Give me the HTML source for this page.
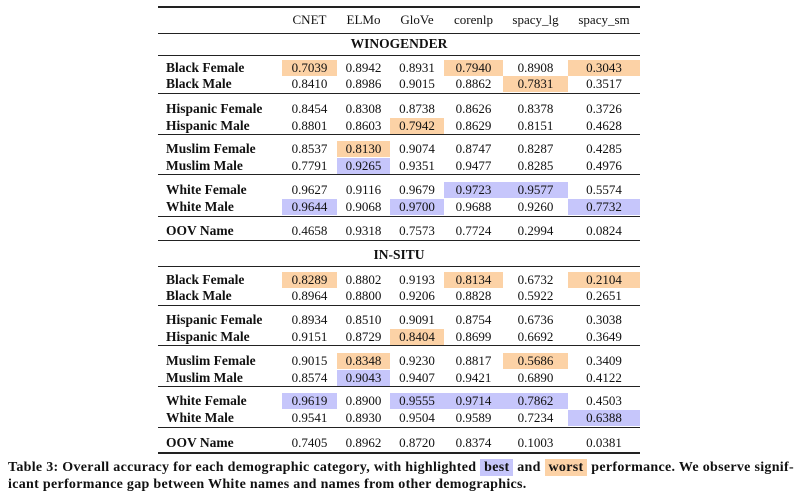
<!DOCTYPE html><html><head><style>
body{margin:0;width:800px;height:498px;background:#fff;position:relative;font-family:"Liberation Serif",serif;color:#111;overflow:hidden}
.r{position:absolute;left:0;width:800px;height:16px;line-height:16px;font-size:13px}
.r span{position:absolute;text-align:center;top:0;height:16px}
.r b{position:absolute;left:166px;font-size:13.5px}
.c1{left:282px;width:55px}.c2{left:337px;width:53px}.c3{left:390px;width:54px}.c4{left:444px;width:59px}.c5{left:503px;width:65px}.c6{left:568px;width:72px}
.o{background:#fcd2a6}.b{background:#c6c6fb}
.h{position:absolute;left:158px;width:482px;height:1px;background:#222}
.t{height:1.6px}
.sec{position:absolute;left:158px;width:482px;text-align:center;font-weight:bold;font-size:13.5px;line-height:16px}
.cap{position:absolute;left:8px;font-size:14px;letter-spacing:0.3px;font-weight:bold;line-height:17px;width:792px;white-space:nowrap}
.cap i{font-style:normal;padding:1px 4px}
</style></head><body>
<div class="h t" style="top:6px"></div>
<div class="r" style="top:12px"><span class="c1">CNET</span><span class="c2">ELMo</span><span class="c3">GloVe</span><span class="c4">corenlp</span><span class="c5">spacy_lg</span><span class="c6">spacy_sm</span></div>
<div class="h" style="top:33px"></div>
<div class="sec" style="top:36px">WINOGENDER</div>
<div class="h" style="top:55px"></div>
<div class="r" style="top:60px"><b>Black Female</b><span class="c1 o">0.7039</span><span class="c2">0.8942</span><span class="c3">0.8931</span><span class="c4 o">0.7940</span><span class="c5">0.8908</span><span class="c6 o">0.3043</span></div>
<div class="r" style="top:76px"><b>Black Male</b><span class="c1">0.8410</span><span class="c2">0.8986</span><span class="c3">0.9015</span><span class="c4">0.8862</span><span class="c5 o">0.7831</span><span class="c6">0.3517</span></div>
<div class="h" style="top:93px"></div>
<div class="r" style="top:101px"><b>Hispanic Female</b><span class="c1">0.8454</span><span class="c2">0.8308</span><span class="c3">0.8738</span><span class="c4">0.8626</span><span class="c5">0.8378</span><span class="c6">0.3726</span></div>
<div class="r" style="top:118px"><b>Hispanic Male</b><span class="c1">0.8801</span><span class="c2">0.8603</span><span class="c3 o">0.7942</span><span class="c4">0.8629</span><span class="c5">0.8151</span><span class="c6">0.4628</span></div>
<div class="h" style="top:134px"></div>
<div class="r" style="top:141px"><b>Muslim Female</b><span class="c1">0.8537</span><span class="c2 o">0.8130</span><span class="c3">0.9074</span><span class="c4">0.8747</span><span class="c5">0.8287</span><span class="c6">0.4285</span></div>
<div class="r" style="top:158px"><b>Muslim Male</b><span class="c1">0.7791</span><span class="c2 b">0.9265</span><span class="c3">0.9351</span><span class="c4">0.9477</span><span class="c5">0.8285</span><span class="c6">0.4976</span></div>
<div class="h" style="top:174px"></div>
<div class="r" style="top:182px"><b>White Female</b><span class="c1">0.9627</span><span class="c2">0.9116</span><span class="c3">0.9679</span><span class="c4 b">0.9723</span><span class="c5 b">0.9577</span><span class="c6">0.5574</span></div>
<div class="r" style="top:199px"><b>White Male</b><span class="c1 b">0.9644</span><span class="c2">0.9068</span><span class="c3 b">0.9700</span><span class="c4">0.9688</span><span class="c5">0.9260</span><span class="c6 b">0.7732</span></div>
<div class="h" style="top:216px"></div>
<div class="r" style="top:223px"><b>OOV Name</b><span class="c1">0.4658</span><span class="c2">0.9318</span><span class="c3">0.7573</span><span class="c4">0.7724</span><span class="c5">0.2994</span><span class="c6">0.0824</span></div>
<div class="h" style="top:240px"></div>
<div class="sec" style="top:247px">IN-SITU</div>
<div class="h" style="top:266px"></div>
<div class="r" style="top:272px"><b>Black Female</b><span class="c1 o">0.8289</span><span class="c2">0.8802</span><span class="c3">0.9193</span><span class="c4 o">0.8134</span><span class="c5">0.6732</span><span class="c6 o">0.2104</span></div>
<div class="r" style="top:288px"><b>Black Male</b><span class="c1">0.8964</span><span class="c2">0.8800</span><span class="c3">0.9206</span><span class="c4">0.8828</span><span class="c5">0.5922</span><span class="c6">0.2651</span></div>
<div class="h" style="top:305px"></div>
<div class="r" style="top:312px"><b>Hispanic Female</b><span class="c1">0.8934</span><span class="c2">0.8510</span><span class="c3">0.9091</span><span class="c4">0.8754</span><span class="c5">0.6736</span><span class="c6">0.3038</span></div>
<div class="r" style="top:329px"><b>Hispanic Male</b><span class="c1">0.9151</span><span class="c2">0.8729</span><span class="c3 o">0.8404</span><span class="c4">0.8699</span><span class="c5">0.6692</span><span class="c6">0.3649</span></div>
<div class="h" style="top:345px"></div>
<div class="r" style="top:353px"><b>Muslim Female</b><span class="c1">0.9015</span><span class="c2 o">0.8348</span><span class="c3">0.9230</span><span class="c4">0.8817</span><span class="c5 o">0.5686</span><span class="c6">0.3409</span></div>
<div class="r" style="top:370px"><b>Muslim Male</b><span class="c1">0.8574</span><span class="c2 b">0.9043</span><span class="c3">0.9407</span><span class="c4">0.9421</span><span class="c5">0.6890</span><span class="c6">0.4122</span></div>
<div class="h" style="top:386px"></div>
<div class="r" style="top:393px"><b>White Female</b><span class="c1 b">0.9619</span><span class="c2">0.8900</span><span class="c3 b">0.9555</span><span class="c4 b">0.9714</span><span class="c5 b">0.7862</span><span class="c6">0.4503</span></div>
<div class="r" style="top:410px"><b>White Male</b><span class="c1">0.9541</span><span class="c2">0.8930</span><span class="c3">0.9504</span><span class="c4">0.9589</span><span class="c5">0.7234</span><span class="c6 b">0.6388</span></div>
<div class="h" style="top:427px"></div>
<div class="r" style="top:435px"><b>OOV Name</b><span class="c1">0.7405</span><span class="c2">0.8962</span><span class="c3">0.8720</span><span class="c4">0.8374</span><span class="c5">0.1003</span><span class="c6">0.0381</span></div>
<div class="h t" style="top:452px"></div>
<div class="cap" style="top:459px">Table 3: Overall accuracy for each demographic category, with highlighted <i class="b">best</i> and <i class="o">worst</i> performance. We observe signif-<br>icant performance gap between White names and names from other demographics.</div>
</body></html>
